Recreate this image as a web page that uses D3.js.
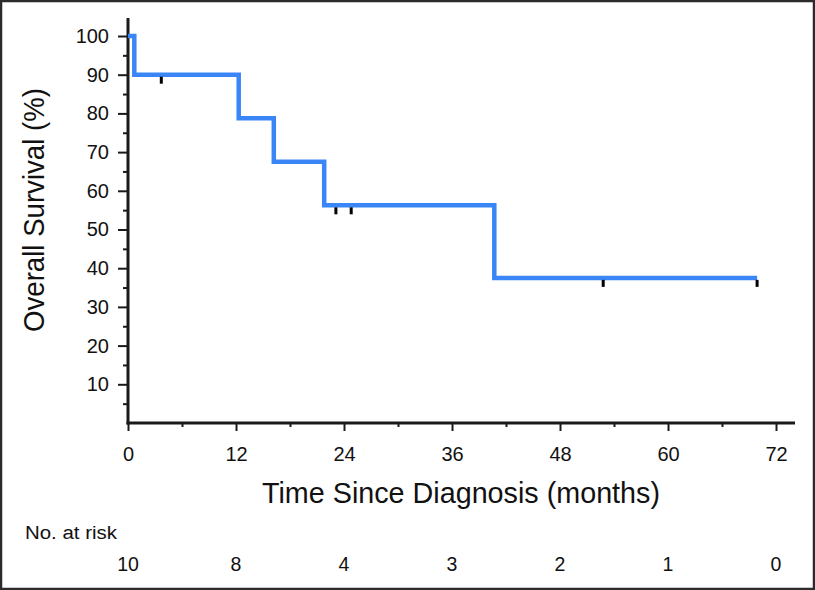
<!DOCTYPE html>
<html>
<head>
<meta charset="utf-8">
<script src="https://cdn.jsdelivr.net/npm/d3@7"></script>
<style>
  html, body { margin: 0; padding: 0; background: #fff; }
  svg { display: block; }
</style>
</head>
<body>
<svg id="chart" width="815" height="590"></svg>
<script>
// Kaplan-Meier step data (months, survival %)
const stepTimes  = [0, 0.7, 12.3, 16.2, 21.8, 40.7, 69.9];
const stepValues = [100, 90, 78.75, 67.5, 56.25, 37.5, 37.5];
// Censor marks
const censorTimes  = [3.7, 23.1, 24.8, 52.8, 69.9];
const censorValues = [90, 56.25, 56.25, 37.5, 37.5];
// Axis ticks
const xTicks = [0, 12, 24, 36, 48, 60, 72];
const xMinorTicks = [6, 18, 30, 42, 54, 66];
const yTicks = [10, 20, 30, 40, 50, 60, 70, 80, 90, 100];
const yMinorTicks = [5, 15, 25, 35, 45, 55, 65, 75, 85, 95];
// Numbers at risk
const riskTimes = [0, 12, 24, 36, 48, 60, 72];
const riskCounts = [10, 8, 4, 3, 2, 1, 0];

const svg = d3.select("#chart");
const W = 815, H = 590;
const FONT = '"Liberation Sans", Arial, Helvetica, sans-serif';

const x = d3.scaleLinear().domain([0, 72]).range([128, 776]);
const y = d3.scaleLinear().domain([0, 100]).range([423, 36]);

// frame
svg.append("rect").attr("x", 1).attr("y", 1).attr("width", W - 2).attr("height", H - 2)
  .attr("fill", "none").attr("stroke", "#2b2b2b").attr("stroke-width", 2.5);

const axisColor = "#1a1a1a";

// Y axis
const gy = svg.append("g").attr("transform", `translate(${x(0)},0)`);
gy.call(d3.axisLeft(y).tickValues(yTicks).tickSize(10).tickPadding(9).tickFormat(d3.format("d")));
gy.select(".domain").remove();
gy.selectAll(".tick line").attr("stroke", axisColor).attr("stroke-width", 2);
gy.selectAll(".tick text").style("font-family", FONT).style("font-size", "20px").attr("fill", "#111");
gy.append("g").call(d3.axisLeft(y).tickValues(yMinorTicks).tickSize(5).tickFormat(""))
  .call(g => g.select(".domain").remove())
  .selectAll(".tick line").attr("stroke", axisColor).attr("stroke-width", 2);
svg.append("line").attr("x1", x(0)).attr("x2", x(0)).attr("y1", 18).attr("y2", y(0) + 1.5)
  .attr("stroke", axisColor).attr("stroke-width", 3);

// X axis
const gx = svg.append("g").attr("transform", `translate(0,${y(0)})`);
gx.call(d3.axisBottom(x).tickValues(xTicks).tickSize(8).tickPadding(16).tickFormat(d3.format("d")));
gx.select(".domain").remove();
gx.selectAll(".tick line").attr("stroke", axisColor).attr("stroke-width", 2);
gx.selectAll(".tick text").style("font-family", FONT).style("font-size", "20px").attr("fill", "#111");
gx.append("g").call(d3.axisBottom(x).tickValues(xMinorTicks).tickSize(4).tickFormat(""))
  .call(g => g.select(".domain").remove())
  .selectAll(".tick line").attr("stroke", axisColor).attr("stroke-width", 2);
svg.append("line").attr("x1", x(0) - 1.5).attr("x2", 795).attr("y1", y(0)).attr("y2", y(0))
  .attr("stroke", axisColor).attr("stroke-width", 3);

// KM curve
const kmData = stepTimes.map((t, i) => ({ t, v: stepValues[i] }));
const line = d3.line().x(d => x(d.t)).y(d => y(d.v)).curve(d3.curveStepAfter);
svg.append("path").datum(kmData).attr("d", line)
  .attr("fill", "none").attr("stroke", "#3b86f7").attr("stroke-width", 4.5)
  .attr("stroke-linejoin", "miter").attr("stroke-linecap", "butt");

// censor marks
svg.selectAll(".censor").data(censorTimes.map((t, i) => ({ t, v: censorValues[i] })))
  .enter().append("line").attr("class", "censor")
  .attr("x1", d => x(d.t)).attr("x2", d => x(d.t))
  .attr("y1", d => y(d.v) + 2).attr("y2", d => y(d.v) + 9)
  .attr("stroke", "#000").attr("stroke-width", 3);

// Axis titles
svg.append("text").attr("x", 461).attr("y", 503).attr("text-anchor", "middle")
  .style("font-family", FONT).style("font-size", "30px").attr("fill", "#111")
  .attr("textLength", 398).attr("lengthAdjust", "spacingAndGlyphs")
  .text("Time Since Diagnosis (months)");

svg.append("text").attr("transform", "translate(44,210) rotate(-90)").attr("text-anchor", "middle")
  .style("font-family", FONT).style("font-size", "30px").attr("fill", "#111")
  .attr("textLength", 244).attr("lengthAdjust", "spacingAndGlyphs")
  .text("Overall Survival (%)");

// Numbers at risk
svg.append("text").attr("x", 25).attr("y", 539)
  .style("font-family", FONT).style("font-size", "18px").attr("fill", "#111")
  .attr("textLength", 92).attr("lengthAdjust", "spacingAndGlyphs")
  .text("No. at risk");

svg.selectAll(".risk").data(riskTimes.map((t, i) => ({ t, n: riskCounts[i] })))
  .enter().append("text").attr("class", "risk")
  .attr("x", d => x(d.t)).attr("y", 571).attr("text-anchor", "middle")
  .style("font-family", FONT).style("font-size", "19.5px").attr("fill", "#111")
  .text(d => d.n);
</script>
</body>
</html>
